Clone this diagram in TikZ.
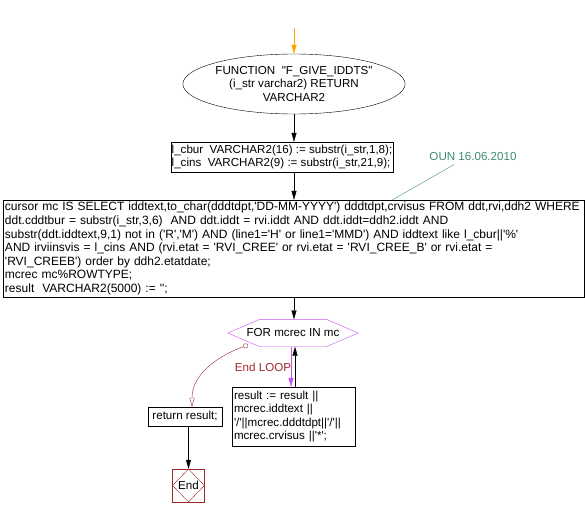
\documentclass[tikz,border=0pt]{standalone}
\usepackage{fontspec}
\setmainfont{Liberation Sans}[Ligatures=TeXOff]
\usepackage{tikz}
\usetikzlibrary{arrows.meta,shapes.geometric}
\definecolor{loopviolet}{RGB}{200,80,245}
\definecolor{endred}{RGB}{160,40,40}
\definecolor{noteteal}{RGB}{60,140,110}
\definecolor{startorange}{RGB}{255,165,0}

\begin{document}
\begin{tikzpicture}[x=1pt,y=-1pt,
        every node/.style={font=\fontsize{11.6}{13.6}\selectfont},
        box/.style={draw,rectangle,align=left,inner xsep=2pt,inner ysep=1pt},
        flow/.style={-{Triangle[length=9pt,width=5pt]}},
    ]
        \useasboundingbox (0,0) rectangle (585,516);

        \node[ellipse,draw,minimum width=184,minimum height=60,inner sep=0pt,align=center] (func) at (294,84)
            {FUNCTION \ "F\_GIVE\_IDDTS"\\(i\_str varchar2) RETURN\\VARCHAR2};
        \node[box,minimum width=220,inner xsep=1pt,minimum height=30] (decl) at (282,157)
            {l\_cbur \ VARCHAR2(16) := substr(i\_str,1,8);\\l\_cins \ VARCHAR2(9) := substr(i\_str,21,9);};
        \node[box,text width=577,minimum height=97,font=\fontsize{12}{13.6}\selectfont] (cur) at (293.5,248.5)
            {cursor mc IS SELECT iddtext,to\_char(dddtdpt,'DD-MM-YYYY') dddtdpt,crvisus FROM ddt,rvi,ddh2 WHERE\\
             ddt.cddtbur = substr(i\_str,3,6) \ AND ddt.iddt = rvi.iddt AND ddt.iddt=ddh2.iddt AND\\
             substr(ddt.iddtext,9,1) not in ('R','M') AND (line1='H' or line1='MMD') AND iddtext like l\_cbur||'\%'\\
             AND irviinsvis = l\_cins AND (rvi.etat = 'RVI\_CREE' or rvi.etat = 'RVI\_CREE\_B' or rvi.etat =\\
             'RVI\_CREEB') order by ddh2.etatdate;\\
             mcrec mc\%ROWTYPE;\\
             result \ VARCHAR2(5000) := '';};

        % Draw the loop head
        \node[minimum width=130,minimum height=27,inner sep=0pt] (loop) at (293,333) {FOR mcrec IN mc};
        \draw[loopviolet] (loop.west) -- ([xshift=32pt]loop.north west) -- ([xshift=-32pt]loop.north east)
            -- (loop.east) -- ([xshift=-32pt]loop.south east) -- ([xshift=32pt]loop.south west) -- cycle;
        \node[box,text width=119,minimum height=59] (body) at (293.5,416.5)
            {result := result ||\\mcrec.iddtext ||\\'/'||mcrec.dddtdpt||'/'||\\mcrec.crvisus ||'*';};
        \node[box,minimum width=74,minimum height=19,inner sep=1pt] (ret) at (185,416.5) {return result;};
        \node[draw=endred,minimum width=32,minimum height=33] (end) at (188.5,485.5) {};
        \node[diamond,draw=endred,minimum width=32,minimum height=33,inner sep=0pt] (endd) at (end.center) {End};

        \node[text=noteteal] (note) at (473,157) {OUN 16.06.2010};
        \draw[noteteal] ([xshift=-19pt]note.south) -- ([xshift=99pt]cur.north);

        % Draw flow arrows
        \coordinate (start) at (294,28);
        \draw[flow,startorange] (start) -- (func);
        \draw[flow] (func) -- (func |- decl.north);
        \draw[flow] (decl.south -| func) -- (func |- cur.north);
        \draw[flow] (cur.south -| func) -- (func |- loop.north);
        \draw[flow,loopviolet] ([xshift=-2pt]loop.south) -- ([xshift=-2pt]loop.south |- body.north);
        \draw[flow] ([xshift=2pt]loop.south |- body.north) -- ([xshift=2pt]loop.south);
        \draw[endred,{Circle[open,length=5pt,width=5pt]}-{Triangle[open,length=9pt,width=5pt]}]
            (248,345) to[out=200,in=90] (ret.north -| 192,0);
        \node[text=endred] (endloop) at (263,367) {End LOOP};
        \draw[flow] (ret.south -| end) -- (end);
    \end{tikzpicture}
\end{document}
